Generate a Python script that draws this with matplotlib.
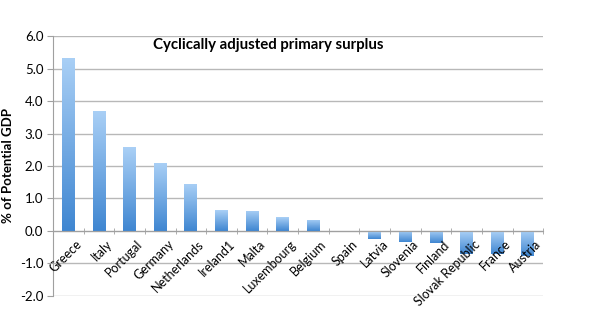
import numpy as np
import matplotlib.pyplot as plt
import matplotlib
from matplotlib.colors import LinearSegmentedColormap
from matplotlib.transforms import ScaledTranslation

matplotlib.rcParams.update({'font.family': ['Lato', 'DejaVu Sans'], 'font.size': 9})

countries = ['Greece', 'Italy', 'Portugal', 'Germany', 'Netherlands', 'Ireland1',
             'Malta', 'Luxembourg', 'Belgium', 'Spain', 'Latvia', 'Slovenia',
             'Finland', 'Slovak Republic', 'France', 'Austria']
surplus = [5.33, 3.70, 2.57, 2.10, 1.45, 0.64, 0.62, 0.42, 0.35, -0.03,
           -0.24, -0.35, -0.38, -0.70, -0.70, -0.78]
yticks = [-2.0, -1.0, 0.0, 1.0, 2.0, 3.0, 4.0, 5.0, 6.0]

fig = plt.figure(figsize=(6.09, 3.31), dpi=100)
ax = fig.add_axes([0.087, 0.106, 0.805, 0.785])

# horizontal gridlines kept underneath the bars
for v in yticks:
    ax.axhline(v, color='#b8b8b8', linewidth=1.0, zorder=0)

x = np.arange(len(countries))
bars = ax.bar(x, surplus, width=0.42, color='none', edgecolor='none', zorder=1)

# gradient fill: light blue on top fading to deeper blue at the bottom
cmap = LinearSegmentedColormap.from_list('bluegrad', ['#3f86d1', '#aad0f6'])
grad = np.linspace(0, 1, 256).reshape(-1, 1)
for b in bars:
    x0, y0 = b.get_x(), b.get_y()
    w, h = b.get_width(), b.get_height()
    lo, hi = min(y0, y0 + h), max(y0, y0 + h)
    im = ax.imshow(grad, cmap=cmap, aspect='auto', origin='lower',
                   extent=[x0, x0 + w, lo, hi], zorder=1)
    im.set_clip_path(b)

ax.set_xlim(-0.5, len(countries) - 0.5)
ax.set_ylim(-2.0, 6.0)
ax.set_yticks(yticks)
ax.set_yticklabels([f'{v:.1f}' for v in yticks], fontsize=9.5)
ax.set_axisbelow(False)

# category axis sits on the zero line
ax.spines['bottom'].set_position(('data', 0))
ax.spines['bottom'].set_color('#a0a0a0')
ax.spines['left'].set_color('#a0a0a0')
ax.spines['top'].set_visible(False)
ax.spines['right'].set_visible(False)

ax.set_xticks(x)
ax.set_xticklabels(countries, rotation=45, ha='right', rotation_mode='anchor',
                   fontsize=9)
ax.tick_params(axis='x', length=0, pad=5)
shift = ScaledTranslation(7 / 100, 0, fig.dpi_scale_trans)
for lbl in ax.get_xticklabels():
    lbl.set_transform(lbl.get_transform() + shift)
ax.set_xticks(np.arange(-0.5, len(countries), 1), minor=True)
ax.tick_params(axis='x', which='minor', length=5, direction='inout', color='#a0a0a0')
ax.tick_params(axis='y', length=4, color='#a0a0a0', pad=3)

ax.set_ylabel('% of Potential GDP', fontsize=9.5, fontweight='bold', labelpad=4)
ax.text(0.44, 0.965, 'Cyclically adjusted primary surplus', transform=ax.transAxes,
        ha='center', va='center', fontsize=10.8, fontweight='bold')

plt.savefig('out.png', dpi=100)
